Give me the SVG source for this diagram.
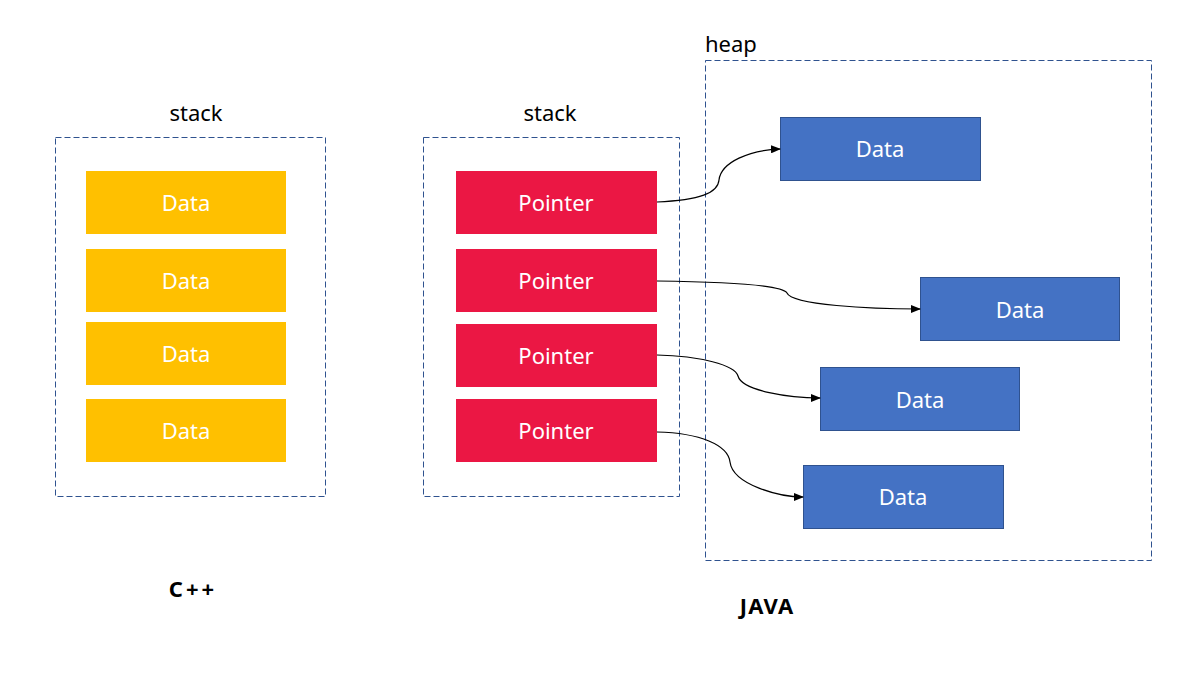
<svg xmlns="http://www.w3.org/2000/svg" width="1189" height="687" viewBox="0 0 1189 687">
<style>
text{font-family:"Noto Sans","Open Sans",sans-serif;font-size:22px}
.lbl{fill:#000}
.in{fill:#fff;text-anchor:middle}
.bold{font-weight:bold;fill:#000;text-anchor:middle}
.dash{fill:none;stroke:#2F528F;stroke-width:1;stroke-dasharray:6,3}
.y{fill:#FFC000}
.r{fill:#EB1744}
.b{fill:#4472C4;stroke:#2F528F;stroke-width:1}
.c{fill:none;stroke:#000;stroke-width:1.2;marker-end:url(#ah)}
</style>
<defs>
<marker id="ah" markerWidth="10" markerHeight="8" refX="9" refY="4" orient="auto" markerUnits="userSpaceOnUse">
<path d="M0,0 L10,4 L0,8 Z" fill="#000"/>
</marker>
</defs>
<rect width="1189" height="687" fill="#fff"/>
<g id="stack-cpp">
<rect class="dash" x="55.5" y="137.5" width="270" height="359"/>
<text class="lbl" x="196" y="121" text-anchor="middle">stack</text>
</g>
<g id="stack-java">
<rect class="dash" x="423.5" y="137.5" width="256" height="359"/>
<text class="lbl" x="550" y="121" text-anchor="middle">stack</text>
</g>
<g id="heap">
<rect class="dash" x="705.5" y="60.5" width="446" height="500"/>
<text class="lbl" x="705" y="52">heap</text>
</g>
<g id="cpp-data1"><rect class="y" x="86" y="171" width="200" height="63"/><text class="in" x="186" y="211">Data</text></g>
<g id="cpp-data2"><rect class="y" x="86" y="249" width="200" height="63"/><text class="in" x="186" y="289">Data</text></g>
<g id="cpp-data3"><rect class="y" x="86" y="322" width="200" height="63"/><text class="in" x="186" y="362">Data</text></g>
<g id="cpp-data4"><rect class="y" x="86" y="399" width="200" height="63"/><text class="in" x="186" y="439">Data</text></g>
<g id="ptr1"><rect class="r" x="456" y="171" width="201" height="63"/><text class="in" x="556" y="211">Pointer</text></g>
<g id="ptr2"><rect class="r" x="456" y="249" width="201" height="63"/><text class="in" x="556" y="289">Pointer</text></g>
<g id="ptr3"><rect class="r" x="456" y="324" width="201" height="63"/><text class="in" x="556" y="364">Pointer</text></g>
<g id="ptr4"><rect class="r" x="456" y="399" width="201" height="63"/><text class="in" x="556" y="439">Pointer</text></g>
<g id="heap-data1"><rect class="b" x="780.5" y="117.5" width="200" height="63"/><text class="in" x="880" y="157">Data</text></g>
<g id="heap-data2"><rect class="b" x="920.5" y="277.5" width="199" height="63"/><text class="in" x="1020" y="318">Data</text></g>
<g id="heap-data3"><rect class="b" x="820.5" y="367.5" width="199" height="63"/><text class="in" x="920" y="408">Data</text></g>
<g id="heap-data4"><rect class="b" x="803.5" y="465.5" width="200" height="63"/><text class="in" x="903" y="505">Data</text></g>
<g id="connectors">
<path class="c" d="M657,202 C700,200 718,193 719,180 C721,162 750,150 780,149"/>
<path class="c" d="M657,281 C740,282 783,286 787,293 C792,305 870,309 920,309"/>
<path class="c" d="M657,355 C700,356 735,365 738,376 C742,391 790,398 820,398"/>
<path class="c" d="M657,432 C700,433 728,445 730,462 C733,485 780,497 803,497"/>
</g>
<text class="bold" x="193" y="597" letter-spacing="3">C++</text>
<text class="bold" x="767" y="614" letter-spacing="1">JAVA</text>
</svg>
